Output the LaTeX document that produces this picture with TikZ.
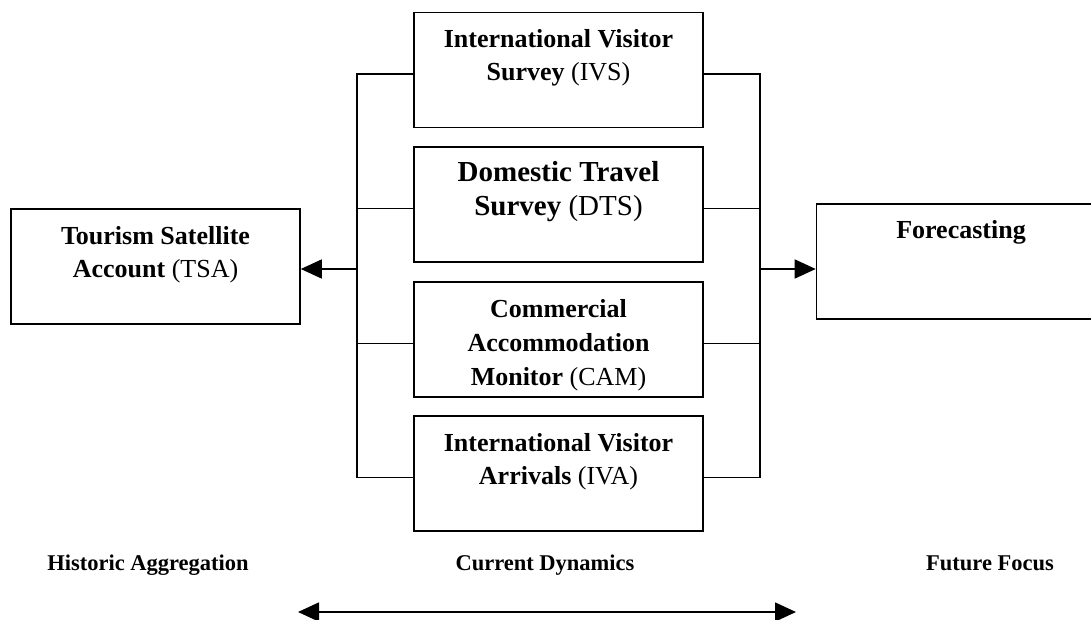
\documentclass[tikz,border=0pt]{standalone}
\usepackage{fontspec}
\setmainfont{Liberation Serif}
\usetikzlibrary{arrows.meta}
\newcommand{\pBoxText}[2][\fontsize{13}{16.75}\selectfont]{\parbox[c][57.5pt][t]{140pt}{\centering#1\rule{0pt}{17.5pt}#2}}

\begin{document}
\begin{tikzpicture}[x=0.5pt,y=-0.5pt,
  >={Triangle[length=10.5pt,width=9.5pt]},
  srcbox/.style={draw, line width=0.8pt, inner sep=0pt, minimum width=144.5pt, minimum height=57.5pt},
  link/.style={line width=0.8pt},
  flow/.style={line width=0.8pt, ->},
  axistext/.style={anchor=base, inner sep=0pt, font=\fontsize{11.25}{13}\selectfont\bfseries}]
\useasboundingbox (0,0) rectangle (1091,620);
\node[srcbox] (ivs) at (558.5,70) {\pBoxText{\textbf{International Visitor}\\\textbf{Survey} (IVS)}};
\node[srcbox] (dts) at (558.5,204.5) {\pBoxText[\fontsize{14.5}{16.5}\selectfont]{\textbf{Domestic Travel}\\\textbf{Survey} (DTS)}};
\node[srcbox] (cam) at (558.5,339.5) {\pBoxText[\fontsize{13}{17}\selectfont]{\textbf{Commercial}\\\textbf{Accommodation}\\\textbf{Monitor} (CAM)}};
\node[srcbox] (iva) at (558.5,473.5) {\pBoxText{\textbf{International Visitor}\\\textbf{Arrivals} (IVA)}};
\node[srcbox] (tsa) at (155.5,266.5) {\pBoxText{\textbf{Tourism Satellite}\\\textbf{Account} (TSA)}};
\node[srcbox] (fcst) at (961,261.5) {\pBoxText{\textbf{Forecasting}}};
\coordinate (lb) at (357,0);
\coordinate (rb) at (760,0);
\coordinate (mid) at (0,269);
\draw[link] ([yshift=-2pt]ivs.west) -| ([yshift=-2pt]iva.west -| lb) -- ([yshift=-2pt]iva.west);
\draw[link] ([yshift=-2pt]ivs.east) -| ([yshift=-2pt]iva.east -| rb) -- ([yshift=-2pt]iva.east);
\foreach \n in {dts,cam} {
  \draw[link] ([yshift=-2pt]\n.west) -- ([yshift=-2pt]\n.west -| lb);
  \draw[link] ([yshift=-2pt]\n.east) -- ([yshift=-2pt]\n.east -| rb);
}
\draw[flow] (mid -| lb) -- (mid -| tsa.east);
\draw[flow] (mid -| rb) -- (mid -| fcst.west);
\node[axistext] (hist) at (148,570) {Historic Aggregation};
\node[axistext] (curr) at (545,570) {Current Dynamics};
\node[axistext] (futr) at (990,570) {Future Focus};
\coordinate (spanL) at (298,612);
\coordinate (spanR) at (796,612);
\draw[link, <->] (spanL) -- (spanR);
\end{tikzpicture}
\end{document}
